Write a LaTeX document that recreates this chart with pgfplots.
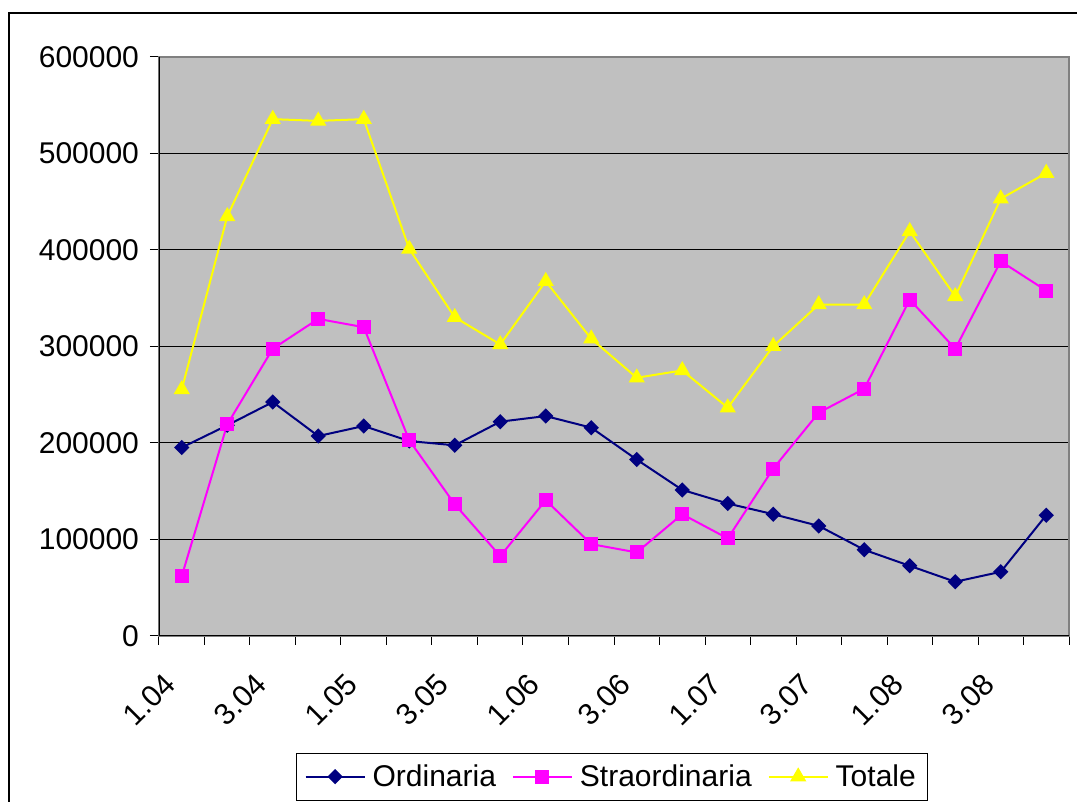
\documentclass[border=0pt]{standalone}
\usepackage{fontspec}
\setmainfont{Liberation Sans}
\usepackage{pgfplots}
\pgfplotsset{compat=1.18}
\definecolor{plotgray}{HTML}{C0C0C0}
\definecolor{bordergray}{HTML}{808080}
\definecolor{ordcol}{HTML}{000080}
\definecolor{strcol}{HTML}{FF00FF}
\definecolor{totcol}{HTML}{FFFF00}

\begin{document}
\begin{tikzpicture}[x=1pt,y=1pt]
  \useasboundingbox (-79.5,-83) rectangle (459,318);
  \clip (-79.5,-83) rectangle (459,318);
  % chart area frame (cut off at right and bottom)
  \draw[line width=1pt] (-74.75,-110) rectangle (490,311.7);
  \begin{axis}[
      at={(0,0)}, anchor=south west,
      scale only axis, width=455pt, height=289.5pt,
      font=\fontsize{15}{18}\selectfont,
      /pgf/number format/assume math mode=true,
      /pgf/number format/.cd, fixed, 1000 sep={}, /pgfplots/.cd,
      scaled y ticks=false,
      xmin=-0.5, xmax=19.5, ymin=0, ymax=600000,
      ytick={0,100000,...,600000},
      xtick={-0.5,0.5,...,19.5}, xticklabels={},
      extra x ticks={0,2,...,18},
      extra x tick labels={1.04,3.04,1.05,3.05,1.06,3.06,1.07,3.07,1.08,3.08},
      extra x tick style={major tick length=0pt,
        tick label style={xshift=-3.5pt, yshift=-19pt, rotate=45, anchor=east}},
      tick align=outside, major tick length=4.5pt, tick pos=left,
      tick style={black, line width=0.5pt},
      yticklabel style={xshift=-2pt},
      ymajorgrids, grid style={black, line width=0.5pt},
      axis background/.style={fill=plotgray},
      axis line style={draw=bordergray, line width=0.75pt},
      legend columns=3,
      legend style={at={(0.498,-0.243)}, anchor=center, draw=black,
        line width=0.5pt, fill=white, inner xsep=4pt, inner ysep=3.5pt,
        font=\fontsize{15}{18}\selectfont,
        /tikz/every odd column/.append style={column sep=1.5pt},
        /tikz/every even column/.append style={column sep=6pt}},
      legend image code/.code={%
        \draw[mark repeat=2, mark phase=2] plot coordinates {(0pt,0pt)(14.75pt,0pt)(29.5pt,0pt)};},
    ]
    \addplot[ordcol, line width=1pt, mark=square*, mark size=2.2pt,
      mark options={rotate=45, solid}] coordinates {
      (0,195300)(1,218300)(2,242400)(3,207200)(4,217600)(5,202000)(6,197600)
      (7,222100)(8,227900)(9,215900)(10,182800)(11,151400)(12,137300)(13,126200)
      (14,114100)(15,89300)(16,72700)(17,56200)(18,66500)(19,125200)};
    \addlegendentry{Ordinaria}
    \addplot[strcol, line width=1pt, mark=square*, mark size=3pt,
      mark options={solid}] coordinates {
      (0,62000)(1,219300)(2,297600)(3,328600)(4,320000)(5,202800)(6,136500)
      (7,82800)(8,140700)(9,95200)(10,86600)(11,126200)(12,101100)(13,173500)
      (14,231400)(15,256200)(16,348600)(17,297600)(18,388300)(19,357900)};
    \addlegendentry{Straordinaria}
    \addplot[totcol, line width=1pt, mark=triangle*, mark size=3.7pt,
      mark options={solid}] coordinates {
      (0,255500)(1,434800)(2,535600)(3,533800)(4,535600)(5,401100)(6,330300)
      (7,302100)(8,367600)(9,308000)(10,267600)(11,275200)(12,236600)(13,300300)
      (14,343500)(15,343500)(16,419300)(17,352000)(18,453100)(19,479700)};
    \addlegendentry{Totale}
    \draw[black, line width=0.75pt] (rel axis cs:0,1) -- (rel axis cs:0,0) -- (rel axis cs:1,0);
  \end{axis}
\end{tikzpicture}
\end{document}
